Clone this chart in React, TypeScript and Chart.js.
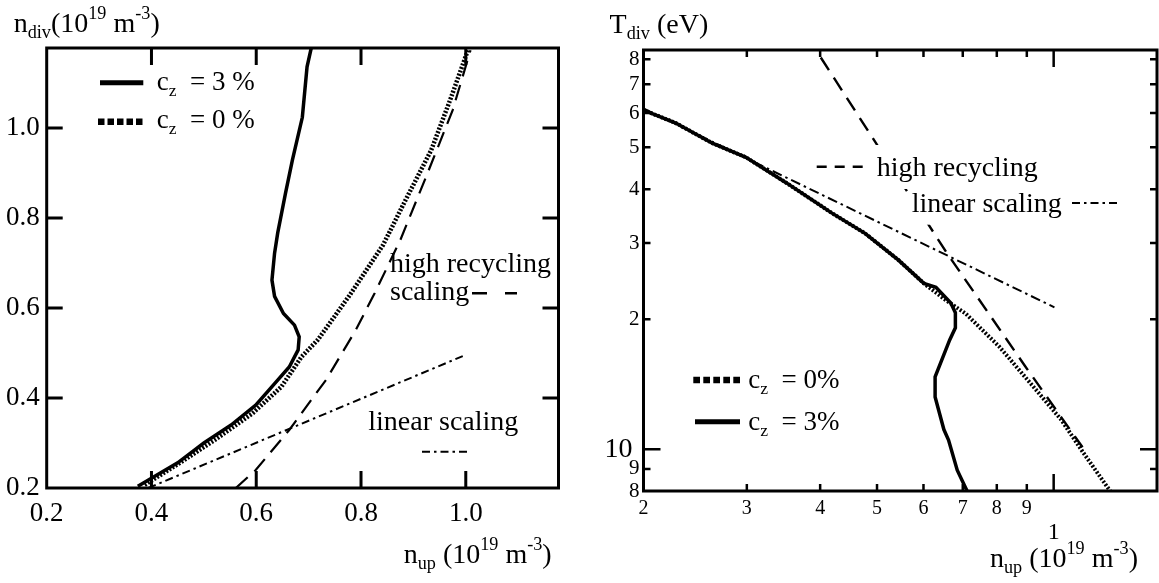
import React, { useEffect, useRef } from 'react';
import { Chart, registerables } from 'chart.js';

Chart.register(...registerables);

const SERIF = '"Liberation Serif", "Times New Roman", Times, serif';
Chart.defaults.font.family = SERIF;

// ===== Left panel: n_div vs n_up (linear axes) =====
const leftXTicks = [0.2, 0.4, 0.6, 0.8, 1.0];
const leftYTicks = [0.2, 0.4, 0.6, 0.8, 1.0];
const leftXRange = [0.2, 1.177];
const leftYRange = [0.2, 1.178];

const leftCz3X = [0.374, 0.45, 0.5, 0.552, 0.599, 0.638, 0.663, 0.68, 0.682, 0.673, 0.652, 0.635, 0.63, 0.635, 0.641, 0.656, 0.669, 0.688, 0.697, 0.705];
const leftCz3Y = [0.204, 0.256, 0.3, 0.34, 0.384, 0.436, 0.469, 0.507, 0.536, 0.562, 0.588, 0.626, 0.662, 0.722, 0.767, 0.856, 0.929, 1.024, 1.136, 1.178];

const leftCz0X = [0.387, 0.457, 0.521, 0.593, 0.648, 0.686, 0.718, 0.778, 0.842, 0.885, 0.934, 0.97, 1.004];
const leftCz0Y = [0.207, 0.258, 0.307, 0.366, 0.425, 0.491, 0.53, 0.628, 0.74, 0.84, 0.951, 1.062, 1.173];

const leftHighRecX = [0.561, 0.599, 0.663, 0.733, 0.79, 0.826, 0.875, 0.924, 0.975, 1.009];
const leftHighRecY = [0.2, 0.24, 0.329, 0.44, 0.551, 0.633, 0.751, 0.891, 1.04, 1.173];

const leftLinearX = [0.394, 1.0];
const leftLinearY = [0.2, 0.496];

// ===== Right panel: T_div vs n_up (log-log axes) =====
const rightXTicks = [0.2, 0.3, 0.4, 0.5, 0.6, 0.7, 0.8, 0.9, 1.0];
const rightXTickLabels = ['2', '3', '4', '5', '6', '7', '8', '9', '1'];
const rightXMajor = [1.0];
const rightYTicks = [8, 9, 10, 20, 30, 40, 50, 60, 70, 80];
const rightYTickLabels = ['8', '9', '10', '2', '3', '4', '5', '6', '7', '8'];
const rightYMajor = [10];
const rightXRange = [0.2, 1.5];
const rightYRange = [8, 84];

const rightCz3X = [0.2, 0.227, 0.262, 0.299, 0.351, 0.419, 0.477, 0.544, 0.601, 0.63, 0.668, 0.68, 0.68, 0.665, 0.628, 0.628, 0.65, 0.662, 0.685, 0.712];
const rightCz3Y = [61, 56.9, 51.1, 47.4, 41.3, 35.2, 31.6, 27.4, 24.2, 23.7, 21.8, 20.7, 19.1, 17.9, 14.7, 13.2, 11.1, 10.5, 8.94, 8.0];

const rightCz0X = [0.2, 0.227, 0.262, 0.299, 0.351, 0.419, 0.477, 0.544, 0.601, 0.656, 0.708, 0.807, 0.934, 1.03, 1.124, 1.248];
const rightCz0Y = [61, 56.9, 51.1, 47.4, 41.3, 35.2, 31.6, 27.4, 24.2, 22.1, 20.6, 17.3, 13.7, 11.7, 9.8, 8.0];

const rightHighRecX = [0.401, 0.656, 0.893, 1.12];
const rightHighRecY = [80.7, 28.6, 15.6, 10.1];

const rightLinearX = [0.2, 1.003];
const rightLinearY = [61.5, 21.3];

// ===== helpers =====
const pts = (xs: number[], ys: number[]) => xs.map((x, i) => ({ x, y: ys[i] }));
const labelFor = (ticks: number[], labels: string[], v: number) => {
  const i = ticks.findIndex((t) => Math.abs(t - v) < 1e-9);
  return i >= 0 ? labels[i] : '';
};

type Seg = { t: string; s?: 'sub' | 'sup' };
type TextItem = { x: number; y: number; size: number; segs: Seg[]; box?: [number, number] };
type Sample = { x1: number; x2: number; y: number; w: number; dash: number[] };
type TickMark = { v: number; len: number };

function drawRich(ctx: CanvasRenderingContext2D, x: number, y: number, segs: Seg[], size: number, measureOnly = false): number {
  let cx = x;
  for (const sg of segs) {
    const fs = sg.s ? size * 0.65 : size;
    ctx.font = `${fs}px ${SERIF}`;
    const dy = sg.s === 'sub' ? size * 0.21 : sg.s === 'sup' ? -size * 0.45 : 0;
    if (!measureOnly) ctx.fillText(sg.t, cx, y + dy);
    cx += ctx.measureText(sg.t).width;
  }
  return cx - x;
}

function decorPlugin(o: { frameW: number; tickW: number; xTicks: TickMark[]; yTicks: TickMark[]; texts: TextItem[]; samples: Sample[] }) {
  return {
    id: 'decor',
    afterDatasetsDraw(chart: any) {
      const ctx: CanvasRenderingContext2D = chart.ctx;
      const a = chart.chartArea;
      const xs = chart.scales.x;
      const ys = chart.scales.y;
      ctx.save();
      ctx.textAlign = 'left';
      ctx.textBaseline = 'alphabetic';
      for (const t of o.texts) {
        if (!t.box) continue;
        const w = drawRich(ctx, t.x, t.y, t.segs, t.size, true);
        ctx.fillStyle = '#fff';
        ctx.fillRect(t.x - 3, t.y - t.box[0], w + 6, t.box[0] + t.box[1]);
      }
      ctx.strokeStyle = '#000';
      ctx.setLineDash([]);
      ctx.lineWidth = o.frameW;
      ctx.strokeRect(a.left, a.top, a.right - a.left, a.bottom - a.top);
      ctx.lineWidth = o.tickW;
      ctx.beginPath();
      for (const tk of o.xTicks) {
        const p = xs.getPixelForValue(tk.v);
        ctx.moveTo(p, a.bottom);
        ctx.lineTo(p, a.bottom - tk.len);
        ctx.moveTo(p, a.top);
        ctx.lineTo(p, a.top + tk.len);
      }
      for (const tk of o.yTicks) {
        const p = ys.getPixelForValue(tk.v);
        ctx.moveTo(a.left, p);
        ctx.lineTo(a.left + tk.len, p);
        ctx.moveTo(a.right, p);
        ctx.lineTo(a.right - tk.len, p);
      }
      ctx.stroke();
      for (const s of o.samples) {
        ctx.lineWidth = s.w;
        ctx.setLineDash(s.dash);
        ctx.beginPath();
        ctx.moveTo(s.x1, s.y);
        ctx.lineTo(s.x2, s.y);
        ctx.stroke();
      }
      ctx.setLineDash([]);
      ctx.fillStyle = '#000';
      for (const t of o.texts) drawRich(ctx, t.x, t.y, t.segs, t.size);
      ctx.restore();
    },
  };
}

const lineDs = (label: string, data: any[], width: number, dash: number[]) => ({
  label,
  data,
  borderColor: '#000',
  backgroundColor: '#000',
  borderWidth: width,
  borderDash: dash,
  pointRadius: 0,
  pointHoverRadius: 0,
  fill: false,
  tension: 0,
});

const DASH_HR = [16, 9];
const DASH_LIN = [8, 4, 2.5, 4];

function leftConfig(): any {
  return {
    type: 'line',
    data: {
      datasets: [
        lineDs('c_z = 3 %', pts(leftCz3X, leftCz3Y), 3.5, []),
        lineDs('c_z = 0 %', pts(leftCz0X, leftCz0Y), 4.5, [2, 1.6]),
        lineDs('high recycling scaling', pts(leftHighRecX, leftHighRecY), 2.2, DASH_HR),
        lineDs('linear scaling', pts(leftLinearX, leftLinearY), 2, DASH_LIN),
      ],
    },
    options: {
      responsive: false,
      animation: false,
      events: [],
      layout: { padding: { left: 0, top: 48, right: 21.5, bottom: 0 } },
      plugins: { legend: { display: false }, tooltip: { enabled: false } },
      scales: {
        x: {
          type: 'linear',
          min: leftXRange[0],
          max: leftXRange[1],
          afterBuildTicks: (s: any) => { s.ticks = leftXTicks.map((v) => ({ value: v })); },
          afterFit: (s: any) => { s.height = 95; },
          grid: { display: false, drawTicks: false },
          border: { display: false },
          ticks: {
            color: '#000', padding: 10, autoSkip: false, maxRotation: 0, minRotation: 0,
            font: { family: SERIF, size: 27 },
            callback: (v: any) => Number(v).toFixed(1),
          },
        },
        y: {
          type: 'linear',
          min: leftYRange[0],
          max: leftYRange[1],
          afterBuildTicks: (s: any) => { s.ticks = leftYTicks.map((v) => ({ value: v })); },
          afterFit: (s: any) => { s.width = 46.7; },
          grid: { display: false, drawTicks: false },
          border: { display: false },
          ticks: {
            color: '#000', padding: 7, autoSkip: false,
            font: { family: SERIF, size: 27 },
            callback: (v: any) => Number(v).toFixed(1),
          },
        },
      },
    },
    plugins: [
      decorPlugin({
        frameW: 3,
        tickW: 3,
        xTicks: leftXTicks.slice(1).map((v) => ({ v, len: 17 })),
        yTicks: leftYTicks.slice(1).map((v) => ({ v, len: 16 })),
        texts: [
          { x: 13.7, y: 31.7, size: 28, segs: [{ t: 'n' }, { t: 'div', s: 'sub' }, { t: '(10' }, { t: '19', s: 'sup' }, { t: ' m' }, { t: '-3', s: 'sup' }, { t: ')' }] },
          { x: 156.7, y: 90, size: 27, segs: [{ t: 'c' }, { t: 'z', s: 'sub' }, { t: '  = 3 %' }] },
          { x: 156.7, y: 128.3, size: 27, segs: [{ t: 'c' }, { t: 'z', s: 'sub' }, { t: '  = 0 %' }] },
          { x: 390, y: 271.7, size: 28, segs: [{ t: 'high recycling' }] },
          { x: 390, y: 300, size: 28, segs: [{ t: 'scaling' }] },
          { x: 368.3, y: 430, size: 28, segs: [{ t: 'linear scaling' }] },
          { x: 403.7, y: 563, size: 28, segs: [{ t: 'n' }, { t: 'up', s: 'sub' }, { t: ' (10' }, { t: '19', s: 'sup' }, { t: ' m' }, { t: '-3', s: 'sup' }, { t: ')' }] },
        ],
        samples: [
          { x1: 100, x2: 143.3, y: 82.7, w: 5, dash: [] },
          { x1: 98, x2: 143, y: 121.7, w: 6.5, dash: [6.5, 3] },
          { x1: 472, x2: 517, y: 293.3, w: 2.5, dash: [15, 18] },
          { x1: 422, x2: 468, y: 451.7, w: 2, dash: DASH_LIN },
        ],
      }),
    ],
  };
}

function rightConfig(): any {
  return {
    type: 'line',
    data: {
      datasets: [
        lineDs('c_z = 3%', pts(rightCz3X, rightCz3Y), 3.5, []),
        lineDs('c_z = 0%', pts(rightCz0X, rightCz0Y), 4, [2, 1.8]),
        lineDs('high recycling', pts(rightHighRecX, rightHighRecY), 2.4, [15, 9]),
        lineDs('linear scaling', pts(rightLinearX, rightLinearY), 2, [10, 4, 2.5, 4]),
      ],
    },
    options: {
      responsive: false,
      animation: false,
      events: [],
      layout: { padding: { left: 0, top: 50, right: 2, bottom: 0 } },
      plugins: { legend: { display: false }, tooltip: { enabled: false } },
      scales: {
        x: {
          type: 'logarithmic',
          min: rightXRange[0],
          max: rightXRange[1],
          afterBuildTicks: (s: any) => { s.ticks = rightXTicks.map((v) => ({ value: v })); },
          afterFit: (s: any) => { s.height = 92; },
          grid: { display: false, drawTicks: false },
          border: { display: false },
          ticks: {
            color: '#000', padding: 6, autoSkip: false, maxRotation: 0, minRotation: 0,
            font: (c: any) => (c.tick && rightXMajor.includes(c.tick.value)
              ? { family: SERIF, size: 24, lineHeight: 1 }
              : { family: SERIF, size: 20 }),
            callback: (v: any) => {
              const l = labelFor(rightXTicks, rightXTickLabels, Number(v));
              return rightXMajor.includes(Number(v)) ? ['', l] : l;
            },
          },
        },
        y: {
          type: 'logarithmic',
          min: rightYRange[0],
          max: rightYRange[1],
          afterBuildTicks: (s: any) => { s.ticks = rightYTicks.map((v) => ({ value: v })); },
          afterFit: (s: any) => { s.width = 63.5; },
          grid: { display: false, drawTicks: false },
          border: { display: false },
          ticks: {
            color: '#000', padding: 4, autoSkip: false,
            font: (c: any) => (c.tick && rightYMajor.includes(c.tick.value)
              ? { family: SERIF, size: 28 }
              : { family: SERIF, size: 21 }),
            callback: (v: any) => {
              const l = labelFor(rightYTicks, rightYTickLabels, Number(v));
              return rightYMajor.includes(Number(v)) ? l + ' ' : l;
            },
          },
        },
      },
    },
    plugins: [
      decorPlugin({
        frameW: 3,
        tickW: 2.5,
        xTicks: rightXTicks.slice(1).map((v) => ({ v, len: rightXMajor.includes(v) ? 17 : 7 })),
        yTicks: rightYTicks.slice(1).map((v) => ({ v, len: rightYMajor.includes(v) ? 17 : 7 })),
        texts: [
          { x: 29.6, y: 33.3, size: 28, segs: [{ t: 'T' }, { t: 'div', s: 'sub' }, { t: ' (eV)' }] },
          { x: 296.7, y: 176, size: 28, segs: [{ t: 'high recycling' }], box: [31, 13] },
          { x: 331.7, y: 211.7, size: 28, segs: [{ t: 'linear scaling' }], box: [14, 13] },
          { x: 168.3, y: 388, size: 27, segs: [{ t: 'c' }, { t: 'z', s: 'sub' }, { t: '  = 0%' }] },
          { x: 168.3, y: 430, size: 27, segs: [{ t: 'c' }, { t: 'z', s: 'sub' }, { t: '  = 3%' }] },
          { x: 410, y: 566.7, size: 28, segs: [{ t: 'n' }, { t: 'up', s: 'sub' }, { t: ' (10' }, { t: '19', s: 'sup' }, { t: ' m' }, { t: '-3', s: 'sup' }, { t: ')' }] },
        ],
        samples: [
          { x1: 236.7, x2: 283.3, y: 166.7, w: 2.5, dash: [10, 8] },
          { x1: 492, x2: 541, y: 203, w: 2, dash: [8, 4, 2.5, 4] },
          { x1: 113.3, x2: 160, y: 380, w: 6.5, dash: [6.7, 3.3] },
          { x1: 115, x2: 160, y: 421.7, w: 5, dash: [] },
        ],
      }),
    ],
  };
}

function ChartCanvas({ make, width, height, left }: { make: () => any; width: number; height: number; left: number }) {
  const ref = useRef<HTMLCanvasElement>(null);
  useEffect(() => {
    const chart = new Chart(ref.current as HTMLCanvasElement, make());
    return () => chart.destroy();
  }, []);
  return (
    <canvas
      ref={ref}
      width={width}
      height={height}
      style={{ position: 'absolute', left, top: 0, width, height }}
    />
  );
}

export default function App() {
  return (
    <div style={{ position: 'absolute', left: 0, top: 0, width: 1159, height: 583, background: '#fff' }}>
      <ChartCanvas make={leftConfig} width={580} height={583} left={0} />
      <ChartCanvas make={rightConfig} width={579} height={583} left={580} />
    </div>
  );
}
